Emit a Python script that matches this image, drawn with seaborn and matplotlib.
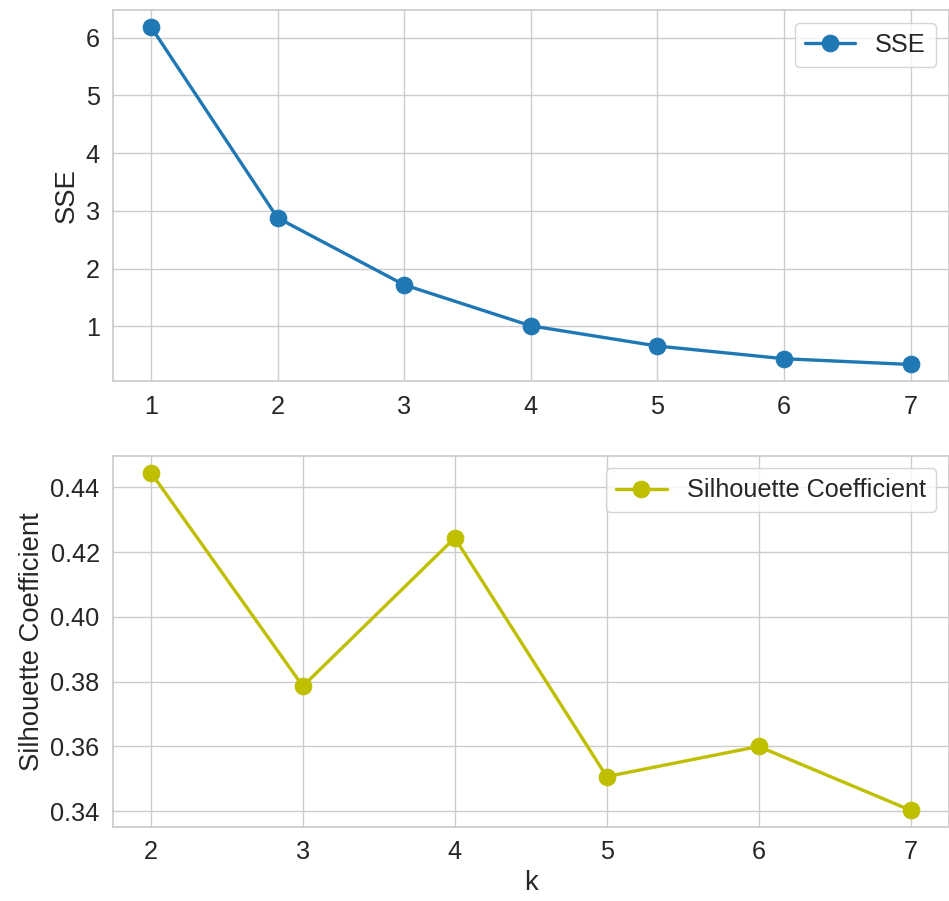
import matplotlib
matplotlib.use("Agg")
import matplotlib.pyplot as plt
import seaborn as sns

# elbow / silhouette values
k_sse = [1, 2, 3, 4, 5, 6, 7]
sse = [6.19, 2.88, 1.72, 1.01, 0.66, 0.44, 0.34]

k_sil = [2, 3, 4, 5, 6, 7]
silhouette = [0.4446, 0.3786, 0.4244, 0.3507, 0.3600, 0.3403]

sns.set_theme(style="whitegrid", font_scale=1.65)
plt.rcParams['font.family'] = ['Liberation Sans', 'DejaVu Sans']

fig, (ax1, ax2) = plt.subplots(2, 1, figsize=(9.49, 9.01), dpi=100)
fig.subplots_adjust(left=0.119, right=0.9995, top=0.989, bottom=0.082, hspace=0.2)

blue = '#1f77b4'
olive = (0.75, 0.75, 0.0)

sns.lineplot(x=k_sse, y=sse, marker='o', markersize=12, color=blue,
             markeredgecolor=blue, linewidth=2.4, label='SSE', ax=ax1)
ax1.set_ylabel('SSE')
ax1.set_xticks(k_sse)
ax1.legend(loc='upper right')

sns.lineplot(x=k_sil, y=silhouette, marker='o', markersize=12, color=olive,
             markeredgecolor=olive, linewidth=2.4, label='Silhouette Coefficient', ax=ax2)
ax2.set_ylabel('Silhouette Coefficient')
ax2.set_xlabel('k')
ax2.set_xticks(k_sil)
ax2.legend(loc='upper right')

fig.savefig('out.png', dpi=100)
